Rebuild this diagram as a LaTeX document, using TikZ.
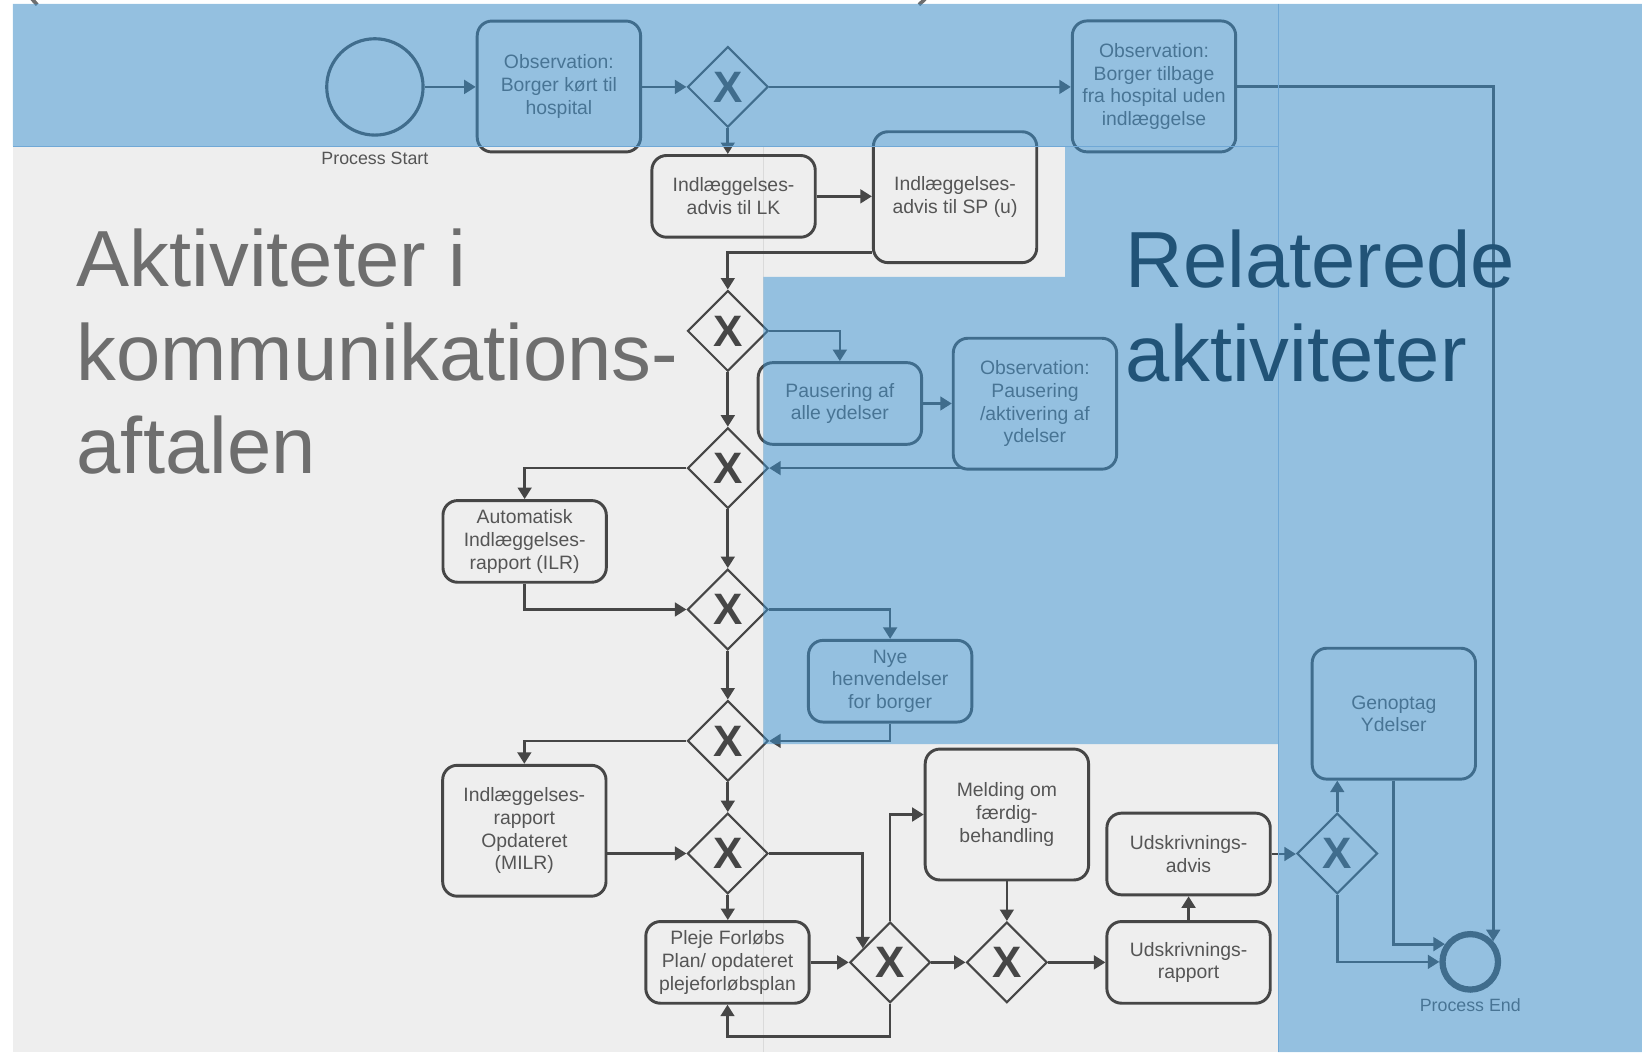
\documentclass[tikz,border=0pt]{standalone}
\usepackage{fontspec}
\setmainfont{Liberation Sans}
\usetikzlibrary{shapes.geometric,arrows.meta,calc}

\definecolor{bggrey}{HTML}{EEEEEE}
\definecolor{lanefaint}{HTML}{DADADA}
\definecolor{ink}{HTML}{464646}
\definecolor{txt}{HTML}{555555}
\definecolor{bigtxt}{HTML}{6E6E6E}
\definecolor{relblue}{HTML}{215377}
\definecolor{laneblue}{RGB}{60,148,212}
\definecolor{laneedge}{RGB}{112,168,214}

\begin{document}
\begin{tikzpicture}[x=1pt,y=-1pt,
  task/.style={draw=ink, line width=2.8pt, rounded corners=14pt, minimum width=156pt,
    minimum height=78pt, align=center, text=txt, inner sep=2pt,
    font=\fontsize{18.5}{21.6}\selectfont},
  tall/.style={task, minimum height=125pt},
  gate/.style={diamond, draw=ink, line width=2pt, minimum width=77pt, minimum height=77pt,
    inner sep=0pt, text=ink, font=\fontsize{42}{42}\selectfont\bfseries},
  flow/.style={draw=ink, line width=2.6pt, -{Triangle[length=11pt,width=13pt]}},
  evlabel/.style={text=txt, inner sep=0pt, font=\fontsize{17}{20}\selectfont},
  big/.style={inner sep=0pt, anchor=base west, font=\fontsize{76}{89}\selectfont},
]
\useasboundingbox (0,0) rectangle (1568,1004.6);

% backgrounds
\fill[white] (0,0) rectangle (1568,1004.6);
\fill[bggrey] (12.4,3.8) rectangle (1568,1004.6);
\draw[lanefaint, line width=0.8pt] (729,139.5) -- (729,1004.6);

% cut-off title fragments
\draw[bigtxt, line width=3.5pt] (30.5,-1) -- (35.5,4.5);
\draw[bigtxt, line width=3.5pt] (883.5,-1) -- (877.5,4.5);

% big lane title
\node[big, text=bigtxt] (akt) at (73,274) {\vtop{\hbox{Aktiviteter i}\hbox{kommunikations-}\hbox{aftalen}}};

% events
\node[draw=ink, circle, line width=3pt, minimum size=92pt, inner sep=0pt] (start) at (358,83) {};
\node[evlabel] (startlbl) at (358,151.3) {Process Start};
\node[draw=ink, circle, line width=6pt, minimum size=53pt, inner sep=0pt] (endc) at (1404,918.5) {};
\node[evlabel] (endlbl) at (1404,959.6) {Process End};

% tasks
\node[tall] (obsA) at (533.7,82.6) {Observation:\\Borger kørt til\\hospital};
\node[tall] (obsB) at (1102,82.5) {Observation:\\Borger tilbage\\fra hospital uden\\indlæggelse};
\node[task] (lk) at (700.5,187.5) {Indlæggelses-\\advis til LK};
\node[tall] (sp) at (912,188.3) {Indlæggelses-\\advis til SP (u)};
\node[task] (paus) at (802,385.3) {Pausering af\\alle ydelser};
\node[tall] (obsC) at (988.3,385.5) {Observation:\\Pausering\\/aktivering af\\ydelser};
\node[task] (ilr) at (501,517) {Automatisk\\Indlæggelses-\\rapport (ILR)};
\node[task] (nye) at (850,650.5) {Nye\\henvendelser\\for borger};
\node[tall] (milr) at (500.7,793.3) {Indlæggelses-\\rapport\\Opdateret\\(MILR)};
\node[task] (pleje) at (694.7,919) {Pleje Forløbs\\Plan/ opdateret\\plejeforløbsplan};
\node[tall] (meld) at (961.5,777.8) {Melding om\\færdig-\\behandling};
\node[task] (ur) at (1135,919) {Udskrivnings-\\rapport};
\node[task] (ua) at (1135,815.5) {Udskrivnings-\\advis};
\node[tall] (gen) at (1331,681.5) {Genoptag\\Ydelser};

% gateways
\node[gate] (g1) at (695,83) {X};
\node[gate] (g2) at (695,316) {X};
\node[gate] (g3) at (695,447) {X};
\node[gate] (g4) at (695,582) {X};
\node[gate] (g5) at (695,707.5) {X};
\node[gate] (g6) at (695,815) {X};
\node[gate] (g7) at (850,919) {X};
\node[gate] (g8) at (961.5,919) {X};
\node[gate] (g9) at (1277,815) {X};

% helper coordinates
\coordinate (c2) at ([yshift=-53pt]sp.west);
\coordinate (c3) at ([xshift=9pt]obsC.south west);
\coordinate (g7in) at ($(g7.north)!0.66!(g7.west)$);
\coordinate (loopy) at (760,989.5);

% flows
\draw[flow] (start.east) -- (start.east -| obsA.west);
\draw[flow] (obsA.east |- g1.west) -- (g1.west);
\draw[flow] (g1.east) -- (g1.east -| obsB.west);
\draw[flow] (obsB.east) -| (endc.42);
\draw[flow] (g1.south) -- (g1.south |- lk.north);
\draw[flow] (lk.east) -- (lk.east -| sp.west);
\draw[flow] (c2) -| (g2.north);
\draw[flow] (g2.east) -| (paus.north);
\draw[flow] (paus.east) -- (paus.east -| obsC.west);
\draw[flow] (c3 |- g3.east) -- (g3.east);
\draw[flow] (g2.south) -- (g3.north);
\draw[flow] (g3.west) -| (ilr.north);
\draw[flow] (ilr.south) |- (g4.west);
\draw[flow] (g3.south) -- (g4.north);
\draw[flow] (g4.east) -| (nye.north);
\draw[flow] (nye.south) |- (g5.east);
\draw[flow] (g4.south) -- (g5.north);
\draw[flow] (g5.west) -| (milr.north);
\draw[flow] (milr.east |- g6.west) -- (g6.west);
\draw[flow] (g5.south) -- (g6.north);
\draw[flow] (g6.east) -| (g7in);
\draw[flow] (g6.south) -- (g6.south |- pleje.north);
\draw[flow] (pleje.east) -- (g7.west);
\draw[flow] (g7.south) -- (g7.south |- loopy) -| (pleje.south);
\draw[flow] (g7.north) |- (meld.west);
\draw[flow] (meld.south) -- (g8.north);
\draw[flow] (g7.east) -- (g8.west);
\draw[flow] (g8.east) -- (ur.west);
\draw[flow] (ur.north) -- (ua.south);
\draw[flow] (ua.east) -- (ua.east -| g9.west);
\draw[flow] (g9.north) -- (g9.north |- gen.south);
\draw[flow] (gen.south) |- (endc.145);
\draw[flow] (g9.south) |- (endc.west);

% translucent blue lane overlay
\fill[laneblue, fill opacity=0.5] (12.4,3.8) -- (1568,3.8) -- (1568,1004.6) -- (1220.5,1004.6)
  -- (1220.5,710.5) -- (729,710.5) -- (729,264.5) -- (1017,264.5) -- (1017,139.5)
  -- (12.4,139.5) -- cycle;
\draw[laneedge, line width=1pt] (1220.5,3.8) -- (1220.5,1004.6);
\draw[laneedge, line width=1pt] (12.4,139.5) -- (1220.5,139.5);

% related lane title
\node[big, text=relblue] (rel) at (1075,275) {\vtop{\hbox{Relaterede}\hbox{aktiviteter}}};
\end{tikzpicture}
\end{document}
